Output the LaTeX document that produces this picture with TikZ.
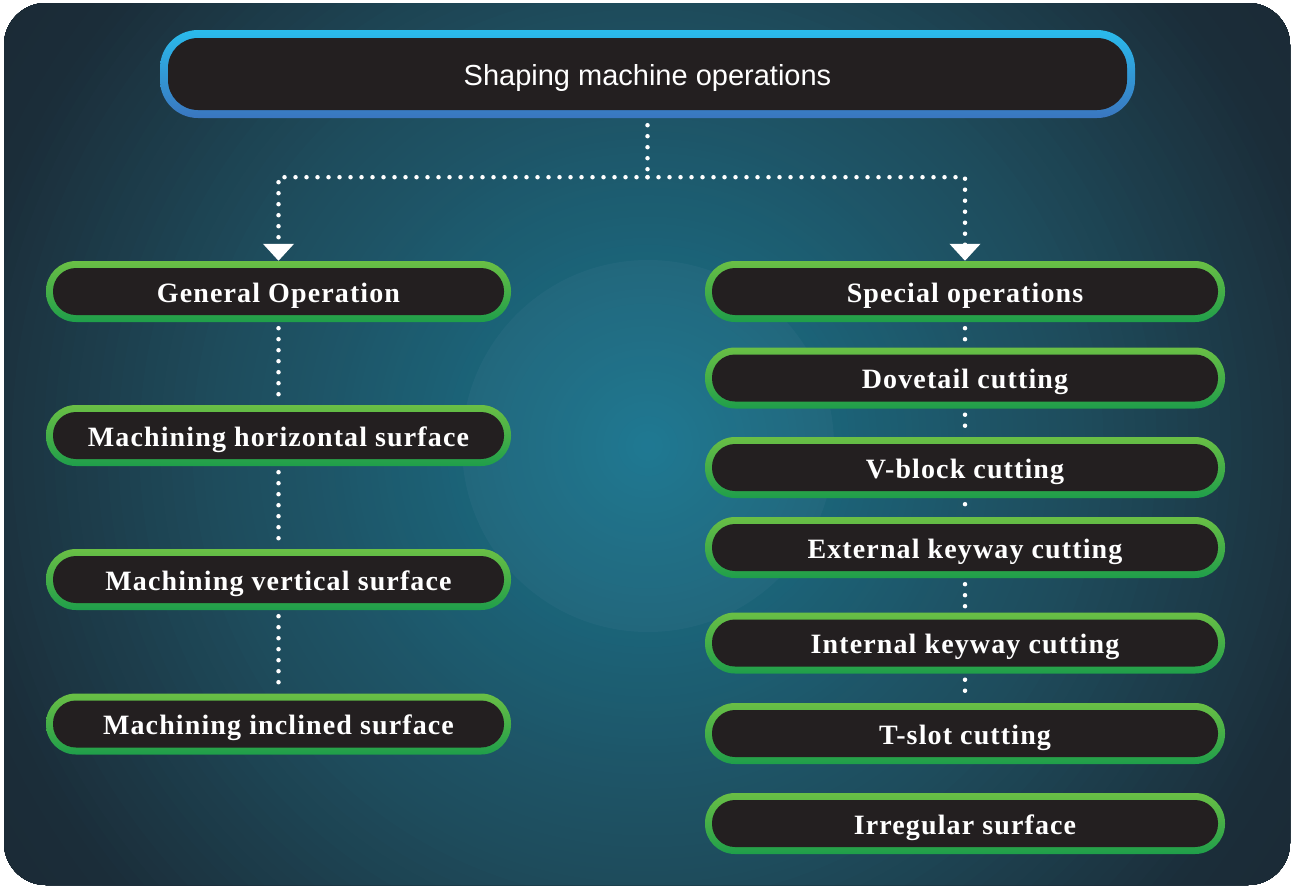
\documentclass[tikz,border=0pt]{standalone}
\usepackage{fontspec}
\setmainfont{Liberation Serif}
\newfontfamily\boxfont[LetterSpace=4]{Liberation Serif}
\newfontfamily\titlefont{Liberation Sans}
\usetikzlibrary{arrows.meta}
\definecolor{boxfill}{HTML}{231F20}
\definecolor{gtop}{HTML}{6ABF45}
\definecolor{gbot}{HTML}{1F9E4A}
\definecolor{btop}{HTML}{2ABBEC}
\definecolor{bbot}{HTML}{3A76BF}
\definecolor{c0}{HTML}{187590}
\definecolor{c1}{HTML}{1B6479}
\definecolor{c2}{HTML}{1E5365}
\definecolor{c3}{HTML}{1E4B5B}
\definecolor{c4}{HTML}{1B2D39}
\definecolor{c5}{HTML}{1A2631}
\tikzset{
  panel/.style={rounded corners=30pt, inner sep=0pt, top color=gtop, bottom color=gbot,
    minimum height=61pt, text height=25pt, text depth=4pt, text=white,
    font=\boxfont\fontsize{28}{32}\selectfont\bfseries,
    path picture={\fill[boxfill, rounded corners=23pt]
      ([shift={(7pt,-7pt)}]path picture bounding box.north west) rectangle
      ([shift={(-7pt,7pt)}]path picture bounding box.south east);}},
  leftbox/.style={panel, minimum width=465pt},
  rightbox/.style={panel, minimum width=520pt},
  titlebox/.style={rounded corners=38pt, inner sep=0pt, top color=btop, bottom color=bbot,
    minimum width=975pt, minimum height=88pt, text height=27pt, text depth=5pt, text=white,
    font=\titlefont\fontsize{29}{34}\selectfont,
    path picture={\fill[boxfill, rounded corners=30pt]
      ([shift={(8pt,-8pt)}]path picture bounding box.north west) rectangle
      ([shift={(-8pt,8pt)}]path picture bounding box.south east);}},
  dotline/.style={draw=white, line width=4.5pt, line cap=round, dash pattern=on 0pt off 11pt},
  tip/.style={-{Triangle[width=30pt,length=17pt,fill=white]}}
}
\begin{document}
\begin{tikzpicture}[x=1pt,y=-1pt]
\useasboundingbox (0,0) rectangle (1293,887);
\fill[white] (0,0) rectangle (1293,887);
\begin{scope}
\clip[rounded corners=42pt] (4,3) rectangle (1290,885);
\fill[c5] (4,3) rectangle (1290,885);
\foreach \ra/\rb/\ca/\cb in {700/900/c4/c5, 445/700/c3/c4, 350/445/c2/c3, 180/350/c1/c2, 0/180/c0/c1} {
  \foreach \k in {24,23,...,1} {
    \pgfmathsetmacro\rr{\ra+(\rb-\ra)*\k/24}
    \pgfmathsetmacro\pp{100*\k/24}
    \fill[\cb!\pp!\ca] (648,446) circle (\rr);
  }
}
\fill[white, opacity=0.03] (648,446) circle (186);
\end{scope}

\node[titlebox] (title) at (647.5,74) {Shaping machine operations};

\node[leftbox] (go) at (278.5,291.5) {General Operation};
\node[leftbox] (mh) at (278.5,435.5) {Machining horizontal surface};
\node[leftbox] (mv) at (278.5,579.5) {Machining vertical surface};
\node[leftbox] (mi) at (278.5,724) {Machining inclined surface};

\node[rightbox] (sp) at (965,291.5) {Special operations};
\node[rightbox] (dv) at (965,378) {Dovetail cutting};
\node[rightbox] (vb) at (965,467.5) {V-block cutting};
\node[rightbox] (ek) at (965,547.5) {External keyway cutting};
\node[rightbox] (ik) at (965,643) {Internal keyway cutting};
\node[rightbox] (ts) at (965,733.5) {T-slot cutting};
\node[rightbox] (ir) at (965,823.5) {Irregular surface};

\coordinate (jn) at ([yshift=-59]title.south);
\draw[dotline] ([yshift=-7]title.south) -- (jn);
\draw[dotline, tip] (jn) -| (go.north);
\draw[dotline, tip] (jn) -| (sp.north);

\draw[dotline] ([yshift=-6]go.south) -- ([yshift=4]mh.north);
\draw[dotline] ([yshift=-6]mh.south) -- ([yshift=4]mv.north);
\draw[dotline] ([yshift=-6]mv.south) -- ([yshift=4]mi.north);

\draw[dotline] ([yshift=-6]sp.south) -- ([yshift=4]dv.north);
\draw[dotline] ([yshift=-6]dv.south) -- ([yshift=4]vb.north);
\draw[dotline] ([yshift=-6]vb.south) -- ([yshift=4]ek.north);
\draw[dotline] ([yshift=-6]ek.south) -- ([yshift=4]ik.north);
\draw[dotline] ([yshift=-6]ik.south) -- ([yshift=4]ts.north);
\end{tikzpicture}
\end{document}
